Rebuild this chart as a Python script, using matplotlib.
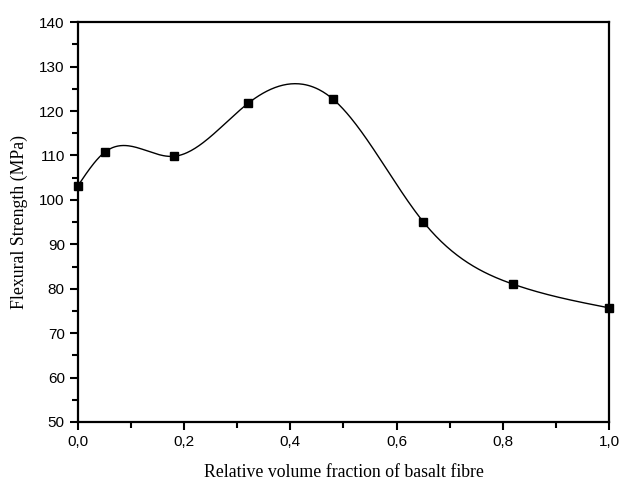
import numpy as np
import matplotlib
matplotlib.use("Agg")
from matplotlib import pyplot as plt
from matplotlib.ticker import MultipleLocator, FuncFormatter

fraction = [0.0, 0.05, 0.18, 0.32, 0.48, 0.65, 0.82, 1.0]
strength = [103.2, 110.7, 109.8, 121.7, 122.7, 95.1, 81.0, 75.7]


def naturalSpline(x, y, xs):
    x = np.asarray(x, float)
    y = np.asarray(y, float)
    n = len(x)
    h = np.diff(x)
    A = np.zeros((n, n))
    b = np.zeros(n)
    A[0, 0] = 1
    A[-1, -1] = 1
    for i in range(1, n - 1):
        A[i, i - 1] = h[i - 1]
        A[i, i] = 2 * (h[i - 1] + h[i])
        A[i, i + 1] = h[i]
        b[i] = 3 * ((y[i + 1] - y[i]) / h[i] - (y[i] - y[i - 1]) / h[i - 1])
    c = np.linalg.solve(A, b)
    bb = (y[1:] - y[:-1]) / h - h * (2 * c[:-1] + c[1:]) / 3
    d = (c[1:] - c[:-1]) / (3 * h)
    idx = np.clip(np.searchsorted(x, xs) - 1, 0, n - 2)
    t = xs - x[idx]
    return y[idx] + bb[idx] * t + c[idx] * t ** 2 + d[idx] * t ** 3


xs = np.linspace(fraction[0], fraction[-1], 400)
ys = naturalSpline(fraction, strength, xs)

fig = plt.figure(figsize=(6.21, 4.82), dpi=100)
ax = fig.add_axes([0.1256, 0.1245, 0.855, 0.8295])

ax.plot(xs, ys, color="black", linewidth=1.0, zorder=2)
ax.plot(fraction, strength, linestyle="none", marker="s", markersize=6,
        color="black", zorder=3, clip_on=False)

ax.set_xlim(0, 1.0)
ax.set_ylim(50, 140)
ax.xaxis.set_major_locator(MultipleLocator(0.2))
ax.xaxis.set_minor_locator(MultipleLocator(0.1))
ax.yaxis.set_major_locator(MultipleLocator(10))
ax.yaxis.set_minor_locator(MultipleLocator(5))
ax.xaxis.set_major_formatter(FuncFormatter(lambda v, p: f"{v:.1f}".replace(".", ",")))

ax.tick_params(which="both", direction="out", top=False, right=False, width=1.5)
ax.tick_params(which="major", length=6, labelsize=11)
ax.tick_params(which="minor", length=4)
for lab in ax.get_xticklabels() + ax.get_yticklabels():
    lab.set_fontfamily("Liberation Sans")
for s in ax.spines.values():
    s.set_linewidth(1.6)

ax.set_xlabel("Relative volume fraction of basalt fibre", fontfamily="Liberation Serif",
              fontsize=12.8, labelpad=11)
ax.set_ylabel("Flexural Strength (MPa)", fontfamily="Liberation Serif",
              fontsize=12.8, labelpad=8)

fig.savefig("out.png", dpi=100)
